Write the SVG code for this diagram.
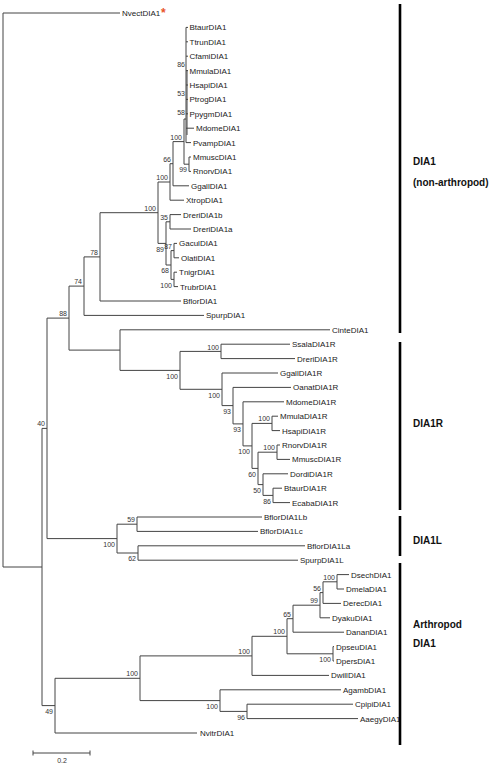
<svg xmlns="http://www.w3.org/2000/svg" width="493" height="765" viewBox="0 0 493 765">
<style>
.br{fill:none;stroke:#444;stroke-width:1}
.lf{font-family:"Liberation Sans",Arial,sans-serif;font-size:8px;fill:#222}
.bs{font-family:"Liberation Sans",Arial,sans-serif;font-size:7px;fill:#333;text-anchor:end}
.cl{font-family:"Liberation Sans",Arial,sans-serif;font-size:10px;font-weight:bold;fill:#111}
.bar{stroke:#000;stroke-width:2.6}
</style>
<rect width="493" height="765" fill="#fff"/>
<g id="connectors" class="br">
<path d="M3,13V567M3,13H120M3,567H42"/>
<path d="M42,428.4V705.6M42,428.4H47M42,705.6H55"/>
<path d="M47,318.1V538.6M47,318.1H69M47,538.6H117"/>
<path d="M69,286.1V350.1M69,286.1H84M69,350.1H120"/>
<path d="M84,256.9V315.4M84,256.9H100M84,315.4H204"/>
<path d="M100,212.7V301M100,212.7H158M100,301H181"/>
<path d="M158,182V243.4M158,182H170M158,243.4H166"/>
<path d="M170,163.7V200.2M170,163.7H173M170,200.2H184"/>
<path d="M173,141.6V185.8M173,141.6H184M173,185.8H189"/>
<path d="M184,119V164.2M184,119H186M184,164.2H189"/>
<path d="M186,27.4V142.6M187,70.6V135M186,27.4H188M186,41.8H188M186,56.2H188M186,70.6H188M186,85H188M186,99.4H188M186,113.8H188M186,128.2H194M186,142.6H191"/>
<path d="M189,157V171.4M189,157H191M189,171.4H191"/>
<path d="M166,221.8V265M166,221.8H170M166,265H171"/>
<path d="M170,214.6V229M170,214.6H181M170,229H191"/>
<path d="M171,250.6V279.4M171,250.6H174M171,279.4H174"/>
<path d="M174,243.4V257.8M174,243.4H177M174,257.8H179"/>
<path d="M174,272.2V286.6M174,272.2H177M174,286.6H178"/>
<path d="M120,329.8V370.4M120,329.8H330M120,370.4H180"/>
<path d="M180,351.4V389.3M180,351.4H221M180,389.3H222"/>
<path d="M221,344.2V358.6M221,344.2H290M221,358.6H295"/>
<path d="M222,373V405.6M222,373H278M222,405.6H233"/>
<path d="M233,387.4V423.9M233,387.4H291M233,423.9H243"/>
<path d="M243,401.8V445.9M243,401.8H284M243,445.9H252"/>
<path d="M252,423.4V468.4M252,423.4H272M252,468.4H258"/>
<path d="M272,416.2V430.6M272,416.2H278M272,430.6H280"/>
<path d="M258,452.2V484.6M258,452.2H277M258,484.6H263"/>
<path d="M277,445V459.4M277,445H280M277,459.4H290"/>
<path d="M263,473.8V495.4M263,473.8H288M263,495.4H273"/>
<path d="M273,488.2V502.6M273,488.2H282M273,502.6H290"/>
<path d="M117,524.2V553M117,524.2H137M117,553H138"/>
<path d="M137,517V531.4M137,517H262M137,531.4H258"/>
<path d="M138,545.8V560.2M138,545.8H305M138,560.2H298"/>
<path d="M55,678.3V733M55,678.3H140M55,733H197"/>
<path d="M140,655.9V700.6M140,655.9H252M140,700.6H220"/>
<path d="M252,636.3V675.4M252,636.3H287M252,675.4H329"/>
<path d="M287,618.7V653.8M287,618.7H293M287,653.8H333"/>
<path d="M293,605.2V632.2M293,605.2H320M293,632.2H344"/>
<path d="M320,592.6V617.8M320,592.6H323M320,617.8H330"/>
<path d="M323,581.8V603.4M323,581.8H337M323,603.4H341"/>
<path d="M337,574.6V589M337,574.6H349M337,589H344"/>
<path d="M333,646.6V661M333,646.6H334M333,661H334"/>
<path d="M220,689.8V711.4M220,689.8H341M220,711.4H247"/>
<path d="M247,704.2V718.6M247,704.2H353M247,718.6H358"/>
</g>
<g id="leaves" class="lf">
<g id="n-Nvect"><text x="122" y="16">NvectDIA1</text><text x="161" y="17" style="fill:#e8552a;font-size:12px;font-weight:bold">*</text></g>
<g id="n-Btaur"><text x="189.5" y="30.4">BtaurDIA1</text></g>
<g id="n-Ttrun"><text x="189.5" y="44.8">TtrunDIA1</text></g>
<g id="n-Cfami"><text x="189.5" y="59.2">CfamiDIA1</text></g>
<g id="n-Mmula"><text x="189.5" y="73.6">MmulaDIA1</text></g>
<g id="n-Hsapi"><text x="189.5" y="88">HsapiDIA1</text></g>
<g id="n-Ptrog"><text x="189.5" y="102.4">PtrogDIA1</text></g>
<g id="n-Ppygm"><text x="189.5" y="116.8">PpygmDIA1</text></g>
<g id="n-Mdome"><text x="196" y="131.2">MdomeDIA1</text></g>
<g id="n-Pvamp"><text x="193" y="145.6">PvampDIA1</text></g>
<g id="n-Mmusc"><text x="193" y="160">MmuscDIA1</text></g>
<g id="n-Rnorv"><text x="193" y="174.4">RnorvDIA1</text></g>
<g id="n-Ggall"><text x="191" y="188.8">GgallDIA1</text></g>
<g id="n-Xtrop"><text x="186" y="203.2">XtropDIA1</text></g>
<g id="n-Dreri1b"><text x="183" y="217.6">DreriDIA1b</text></g>
<g id="n-Dreri1a"><text x="193" y="232">DreriDIA1a</text></g>
<g id="n-Gacul"><text x="179" y="246.4">GaculDIA1</text></g>
<g id="n-Olati"><text x="181" y="260.8">OlatiDIA1</text></g>
<g id="n-Tnigr"><text x="179" y="275.2">TnigrDIA1</text></g>
<g id="n-Trubr"><text x="180" y="289.6">TrubrDIA1</text></g>
<g id="n-Bflor"><text x="183" y="304">BflorDIA1</text></g>
<g id="n-Spurp"><text x="206" y="318.4">SpurpDIA1</text></g>
<g id="n-Cinte"><text x="332" y="332.8">CinteDIA1</text></g>
<g id="n-SsalaR"><text x="292" y="347.2">SsalaDIA1R</text></g>
<g id="n-DreriR"><text x="297" y="361.6">DreriDIA1R</text></g>
<g id="n-GgallR"><text x="280" y="376">GgallDIA1R</text></g>
<g id="n-OanatR"><text x="293" y="390.4">OanatDIA1R</text></g>
<g id="n-MdomeR"><text x="286" y="404.8">MdomeDIA1R</text></g>
<g id="n-MmulaR"><text x="280" y="419.2">MmulaDIA1R</text></g>
<g id="n-HsapiR"><text x="282" y="433.6">HsapiDIA1R</text></g>
<g id="n-RnorvR"><text x="282" y="448">RnorvDIA1R</text></g>
<g id="n-MmuscR"><text x="292" y="462.4">MmuscDIA1R</text></g>
<g id="n-DordiR"><text x="290" y="476.8">DordiDIA1R</text></g>
<g id="n-BtaurR"><text x="284" y="491.2">BtaurDIA1R</text></g>
<g id="n-EcabaR"><text x="292" y="505.6">EcabaDIA1R</text></g>
<g id="n-BflorLb"><text x="264" y="520">BflorDIA1Lb</text></g>
<g id="n-BflorLc"><text x="260" y="534.4">BflorDIA1Lc</text></g>
<g id="n-BflorLa"><text x="307" y="548.8">BflorDIA1La</text></g>
<g id="n-SpurpL"><text x="300" y="563.2">SpurpDIA1L</text></g>
<g id="n-Dsech"><text x="351" y="577.6">DsechDIA1</text></g>
<g id="n-Dmela"><text x="346" y="592">DmelaDIA1</text></g>
<g id="n-Derec"><text x="343" y="606.4">DerecDIA1</text></g>
<g id="n-Dyaku"><text x="332" y="620.8">DyakuDIA1</text></g>
<g id="n-Danan"><text x="346" y="635.2">DananDIA1</text></g>
<g id="n-Dpseu"><text x="336" y="649.6">DpseuDIA1</text></g>
<g id="n-Dpers"><text x="336" y="664">DpersDIA1</text></g>
<g id="n-Dwill"><text x="331" y="678.4">DwillDIA1</text></g>
<g id="n-Agamb"><text x="343" y="692.8">AgambDIA1</text></g>
<g id="n-Cpipi"><text x="355" y="707.2">CpipiDIA1</text></g>
<g id="n-Aaegy"><text x="360" y="721.6">AaegyDIA1</text></g>
<g id="n-Nvitr"><text x="200" y="736">NvitrDIA1</text></g>
</g>
<g id="bootstrap" class="bs">
<text x="185" y="67">86</text><text x="185" y="96">53</text><text x="185" y="115">58</text>
<text x="182" y="139.5">100</text><text x="187" y="172">99</text><text x="171" y="161.5">66</text>
<text x="168" y="180">100</text><text x="156" y="210.5">100</text><text x="168" y="219.5">35</text>
<text x="164" y="251.5">89</text><text x="172" y="248.5">87</text><text x="169" y="273">68</text>
<text x="172" y="287.5">100</text><text x="98" y="254.5">78</text><text x="82" y="284">74</text>
<text x="67" y="316">88</text><text x="178" y="378.5">100</text>
<text x="219" y="349.5">100</text><text x="220" y="397.5">100</text><text x="231" y="413.5">93</text>
<text x="241" y="432">93</text><text x="270" y="421">100</text><text x="250" y="454">100</text>
<text x="275" y="450">100</text><text x="256" y="476.5">60</text><text x="261" y="492.5">50</text>
<text x="271" y="503.5">86</text><text x="45" y="426">40</text><text x="115" y="546.5">100</text>
<text x="135" y="522">59</text><text x="136" y="561">62</text><text x="53" y="713.5">49</text>
<text x="138" y="676">100</text><text x="250" y="653.5">100</text><text x="218" y="708.5">100</text>
<text x="245" y="719.5">96</text><text x="285" y="634">100</text><text x="291" y="616.5">65</text>
<text x="331" y="662">100</text><text x="318" y="603">99</text><text x="321" y="590.5">56</text>
<text x="335" y="579.5">100</text>
</g>
<g id="clade-DIA1"><line class="bar" x1="400" y1="4" x2="400" y2="333"/><text class="cl" x="413" y="165">DIA1</text><text class="cl" x="413" y="186">(non-arthropod)</text></g>
<g id="clade-DIA1R"><line class="bar" x1="400" y1="342" x2="400" y2="510"/><text class="cl" x="413" y="427">DIA1R</text></g>
<g id="clade-DIA1L"><line class="bar" x1="400" y1="516" x2="400" y2="556"/><text class="cl" x="413" y="544">DIA1L</text></g>
<g id="clade-Arthropod"><line class="bar" x1="400" y1="563" x2="400" y2="745"/><text class="cl" x="413" y="628">Arthropod</text><text class="cl" x="413" y="647">DIA1</text></g>
<g id="scale"><path class="br" d="M33,753H90M33,750.5V755.5M90,750.5V755.5"/><text class="bs" x="62" y="763" style="text-anchor:middle">0.2</text></g>
</svg>
